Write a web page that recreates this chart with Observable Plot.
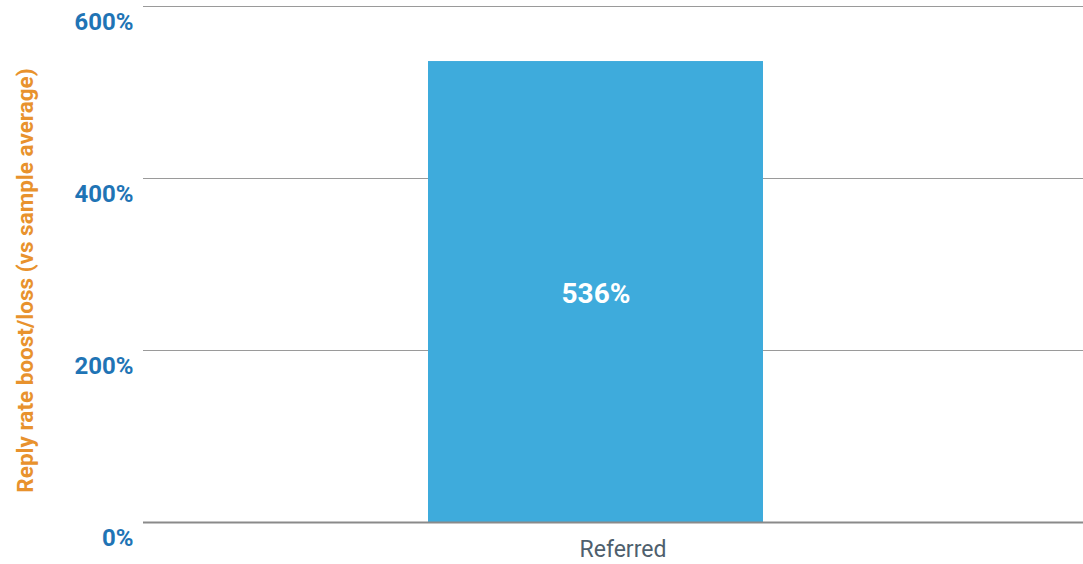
<!DOCTYPE html>
<html>
<head>
<meta charset="utf-8">
<script src="https://cdn.jsdelivr.net/npm/d3@7"></script>
<script src="https://cdn.jsdelivr.net/npm/@observablehq/plot@0.6"></script>
<style>
  html, body { margin: 0; padding: 0; background: #fff; }
  #chart { width: 1083px; height: 564px; }
</style>
</head>
<body>
<div id="chart"></div>
<script>
const categories = ["Referred"];
const values = [536];
const yTicks = [0, 200, 400, 600];
const yTitle = "Reply rate boost/loss (vs sample average)";

const data = categories.map((c, i) => ({category: c, value: values[i]}));

const chart = Plot.plot({
  width: 1083,
  height: 564,
  marginLeft: 143,
  marginRight: 0,
  marginTop: 6,
  marginBottom: 42,
  style: {fontFamily: "Roboto, sans-serif", background: "#fff"},
  x: {domain: categories, padding: 0.474, label: null},
  y: {domain: [0, 600], label: null},
  marks: [
    Plot.gridY(yTicks.filter(t => t > 0), {stroke: "#9a9a9a", strokeOpacity: 1, strokeWidth: 1}),
    Plot.barY(data, {x: "category", y: "value", fill: "#3eabdc", dx: -17}),
    Plot.ruleY([0], {stroke: "#8a8a8a", strokeWidth: 2}),
    Plot.text(data, {x: "category", y: d => d.value / 2, text: d => d.value + "%", fill: "#fff", fontSize: 28, fontWeight: "bold", dx: -17, dy: 2}),
    Plot.axisY({ticks: yTicks, tickFormat: d => d + "%", tickSize: 0, tickPadding: 10, dy: 16, fontSize: 24, fontWeight: "bold", fill: "#1f74b5", label: null}),
    Plot.axisX({tickSize: 0, tickPadding: 18, fontSize: 23, fill: "#4f5f6d", dx: 10, label: null}),
    Plot.text([yTitle], {frameAnchor: "left", rotate: -90, dx: -118, dy: 16, fontSize: 22.5, fontWeight: "bold", fill: "#e8922d", textAnchor: "middle"})
  ]
});
document.getElementById("chart").appendChild(chart);
</script>
</body>
</html>
